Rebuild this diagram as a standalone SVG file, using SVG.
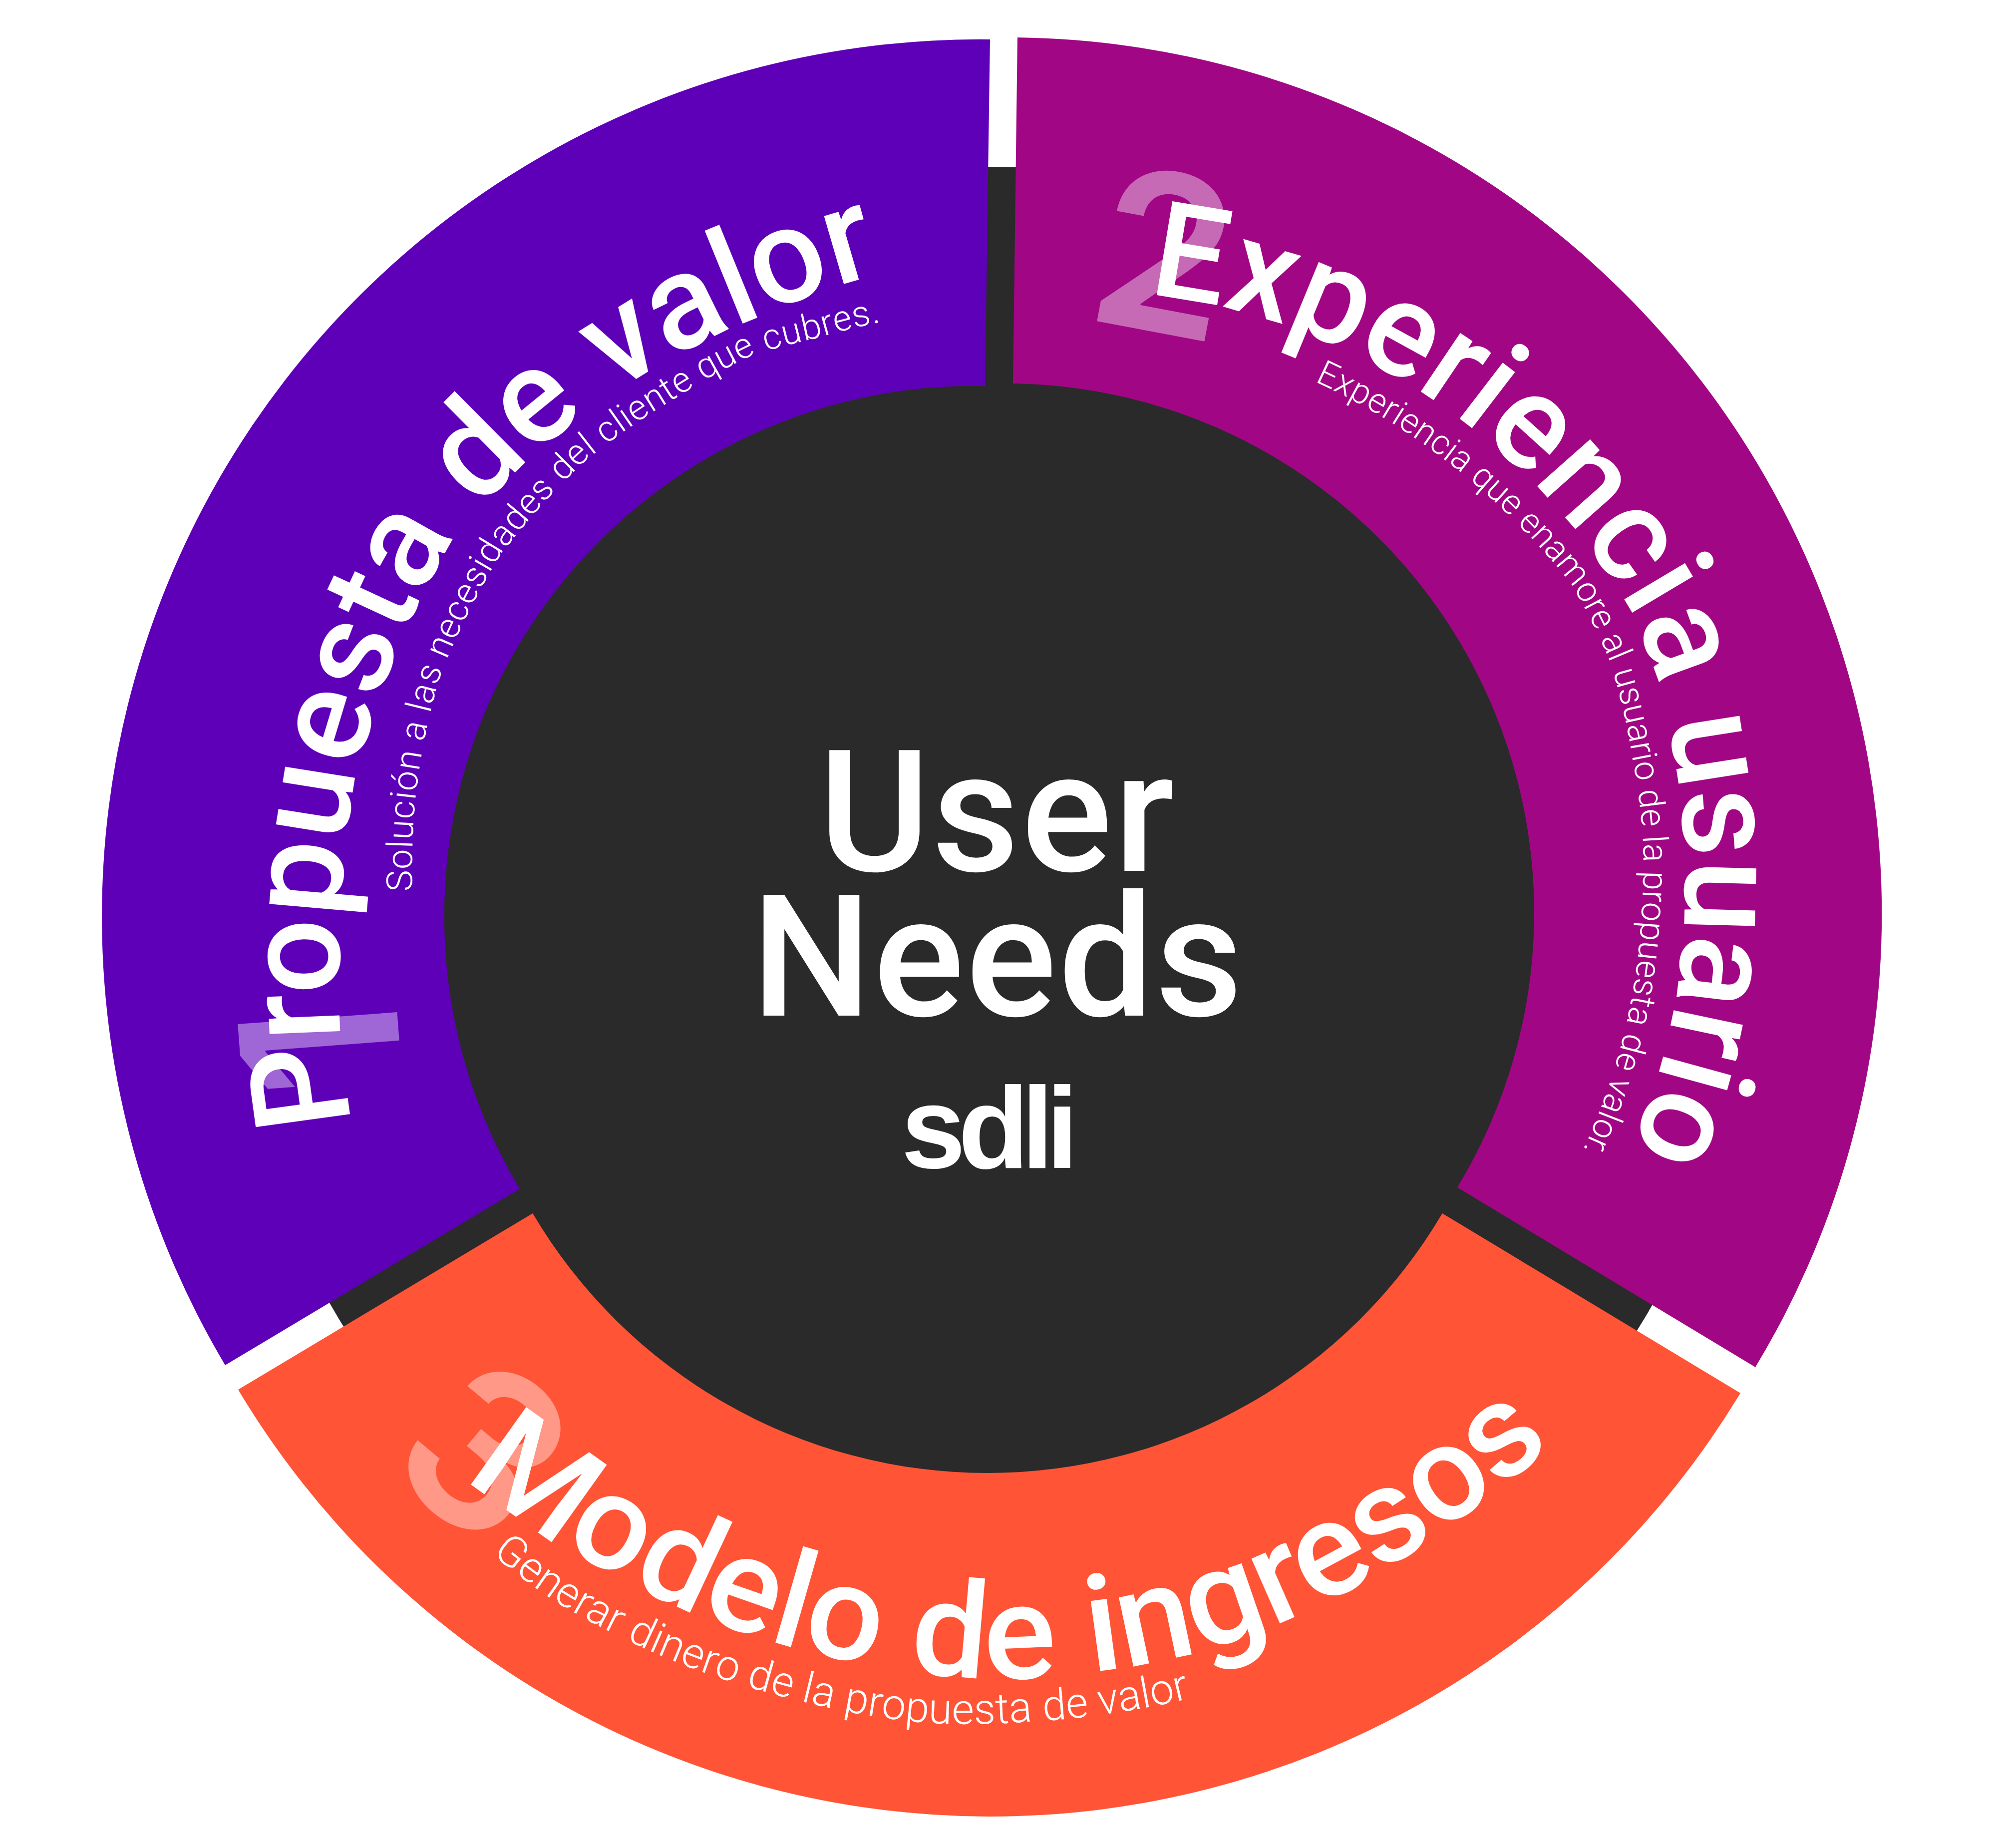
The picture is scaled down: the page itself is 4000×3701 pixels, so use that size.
<svg xmlns="http://www.w3.org/2000/svg" width="4000" height="3701" viewBox="0 0 4000 3701">
<style>
.t{font-family:Roboto,"Liberation Sans",sans-serif;font-weight:500;fill:#fff}
.s{font-family:Roboto,"Liberation Sans",sans-serif;font-weight:300;fill:#fff;font-size:72px}
.n{font-family:Inter,"Liberation Sans",sans-serif;font-weight:600;fill:#fff;fill-opacity:.4;font-size:440px}
</style>
<defs>
<path id="p1" d="M706 2250 A1500 1500 0 0 1 681 2055 A1500 1500 0 0 1 680 1917 A1500 1500 0 0 1 686 1758 A1500 1500 0 0 1 709 1574 A1500 1500 0 0 1 742 1453 A1500 1500 0 0 1 790 1316 A1500 1500 0 0 1 908 1080 A1500 1500 0 0 1 1271 761 A1500 1500 0 0 1 1505 641 A1500 1500 0 0 1 1720 560 A1500 1500 0 0 1 1900 510"/>
<path id="p1s" d="M826 1785 A1500 1500 0 0 1 832 1600 A1500 1500 0 0 1 852 1471 A1500 1500 0 0 1 880 1359 A1500 1500 0 0 1 1000 1115 A1500 1500 0 0 1 1171 924 A1500 1500 0 0 1 1347 801 A1500 1500 0 0 1 1505 712 A1500 1500 0 0 1 1636 677 A1500 1500 0 0 1 1770 644 A1500 1500 0 0 1 1900 620"/>
<path id="p2" d="M2298 590 A1300 1300 0 0 1 2443 614 A1300 1300 0 0 1 3268 1225 A1300 1300 0 0 1 3323 1371 A1300 1300 0 0 1 3359 1553 A1300 1300 0 0 1 3373 1837 A1300 1300 0 0 1 3326 2135 A1300 1300 0 0 1 3270 2290 A1300 1300 0 0 1 3150 2500"/>
<path id="p2s" d="M2633 764 A1300 1300 0 0 1 2890 918 A1300 1300 0 0 1 3040 1050 A1300 1300 0 0 1 3148 1171 A1300 1300 0 0 1 3224 1323 A1300 1300 0 0 1 3270 1520 A1300 1300 0 0 1 3291 1686 A1300 1300 0 0 1 3288 1830 A1300 1300 0 0 1 3259 2044 A1300 1300 0 0 1 3224 2169 A1300 1300 0 0 1 3165 2315 A1300 1300 0 0 1 3080 2480"/>
<path id="p3" d="M930 2958 A1500 1500 0 0 0 1083 3071 A1500 1500 0 0 0 1200 3137 A1500 1500 0 0 0 1362 3220 A1500 1500 0 0 0 1475 3264 A1500 1500 0 0 0 1687 3323 A1500 1500 0 0 0 2042 3362 A1500 1500 0 0 0 2215 3345 A1500 1500 0 0 0 2383 3313 A1500 1500 0 0 0 2580 3244 A1500 1500 0 0 0 2685 3194 A1500 1500 0 0 0 2800 3127 A1500 1500 0 0 0 2922 3042 A1500 1500 0 0 0 3085 2915 A1500 1500 0 0 0 3220 2790"/>
<path id="p3s" d="M985 3112 A1500 1500 0 0 0 1104 3202 A1500 1500 0 0 0 1228 3271 A1500 1500 0 0 0 1400 3346 A1500 1500 0 0 0 1544 3391 A1500 1500 0 0 0 1660 3420 A1500 1500 0 0 0 1850 3450 A1500 1500 0 0 0 2057 3448 A1500 1500 0 0 0 2239 3429 A1500 1500 0 0 0 2400 3397 A1500 1500 0 0 0 2560 3340"/>
</defs>
<rect width="4000" height="3701" fill="#fff"/>
<circle id="dark-ring" cx="1986" cy="1858" r="1524" fill="#2a2a2a"/>
<g id="node-1">
<path d="M1983 79 L1973 773 A1062 1062 0 0 0 1041 2381 L451 2734 A1757 1757 0 0 1 1983 79 Z" fill="#5f00b9"/>
<text class="n" transform="translate(798 2061) rotate(-94.3)" x="-120">1</text>
<text class="t" font-size="268"><textPath href="#p1" textLength="2240" lengthAdjust="spacingAndGlyphs">Propuesta de valor</textPath></text>
<text class="s"><textPath href="#p1s" textLength="1625" lengthAdjust="spacing">Solución a las necesidades del cliente que cubres.</textPath></text>
</g>
<g id="node-2">
<path d="M2038 75 L2029 768 A1060 1060 0 0 1 2919 2378 L3516 2738 A1755 1755 0 0 0 2038 75 Z" fill="#a10785"/>
<text class="n" transform="translate(2333 508) rotate(10.7)" text-anchor="middle" y="158">2</text>
<text class="t" font-size="268"><textPath href="#p2" textLength="2310" lengthAdjust="spacingAndGlyphs">Experiencia usuario</textPath></text>
<text class="s" style="font-size:70px"><textPath href="#p2s" textLength="1838" lengthAdjust="spacingAndGlyphs">Experiencia que enamore al usuario de la propuesta de valor.</textPath></text>
</g>
<g id="node-3">
<path d="M1067 2430 L477 2783 A1755 1755 0 0 0 3486 2790 L2889 2430 A1058 1058 0 0 1 1067 2430 Z" fill="#ff5436"/>
<text class="n" transform="translate(972 2905) rotate(40)" text-anchor="middle" y="158">3</text>
<text class="t" font-size="268"><textPath href="#p3" textLength="2400" lengthAdjust="spacingAndGlyphs">Modelo de ingresos</textPath></text>
<text class="s" style="font-size:86px"><textPath href="#p3s" textLength="1480" lengthAdjust="spacing">Generar dinero de la propuesta de valor</textPath></text>
</g>
<g id="center">
<text class="t" font-size="340" x="1640" y="1744" letter-spacing="4">User</text>
<text class="t" font-size="340" x="1505" y="2034" letter-spacing="3">Needs</text>
<text x="1805" y="2339" font-family="'Liberation Sans',sans-serif" font-weight="700" font-size="232" fill="#fff" textLength="355" lengthAdjust="spacing">sdli</text>
</g>
</svg>
